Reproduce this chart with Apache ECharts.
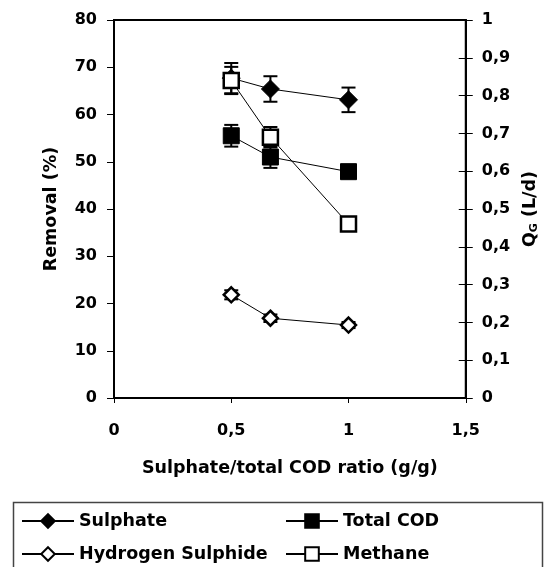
<!DOCTYPE html>
<html>
<head>
<meta charset="utf-8">
<script src="https://cdn.jsdelivr.net/npm/echarts@6/dist/echarts.min.js"></script>
<style>html,body{margin:0;padding:0;background:#fff}#c{width:548px;height:567px}</style>
</head>
<body>
<div id="c"></div>
<script>
// ---- data ----
const ratio = [0.5, 0.667, 1];
const sulphate = [67.7, 65.4, 63.1];
const sulphateErr = [3.2, 2.7, 2.6];
const totalCOD = [55.5, 51.0, 47.9];
const totalCODErr = [2.3, 2.3, 0.8];
const methane = [0.84, 0.69, 0.46];
const methaneErr = [0.036, 0.027, 0];
const h2s = [0.273, 0.211, 0.193];
const h2sErr = [0.012, 0.01, 0.008];
const xTickLabels = ['0', '0,5', '1', '1,5'];
const leftTickLabels = ['0', '10', '20', '30', '40', '50', '60', '70', '80'];
const rightTickLabels = ['0', '0,1', '0,2', '0,3', '0,4', '0,5', '0,6', '0,7', '0,8', '0,9', '1'];

const FONT = '"DejaVu Sans", sans-serif';
const chart = echarts.init(document.getElementById('c'));

function pts(vals) { return ratio.map((x, i) => [x, vals[i]]); }
function errPts(vals, errs) { return ratio.map((x, i) => [x, vals[i], errs[i]]); }

function errSeries(vals, errs, yIdx) {
  return {
    type: 'custom', yAxisIndex: yIdx, z: 1, silent: true,
    data: errPts(vals, errs),
    renderItem: function (params, api) {
      const x = api.value(0), y = api.value(1), e = api.value(2);
      if (!e) return null;
      const top = api.coord([x, y + e]);
      const bot = api.coord([x, y - e]);
      const hw = 7;
      const st = { stroke: '#000', lineWidth: 2 };
      return {
        type: 'group', children: [
          { type: 'line', shape: { x1: top[0], y1: top[1], x2: bot[0], y2: bot[1] }, style: st },
          { type: 'line', shape: { x1: top[0] - hw, y1: top[1], x2: top[0] + hw, y2: top[1] }, style: st },
          { type: 'line', shape: { x1: bot[0] - hw, y1: bot[1], x2: bot[0] + hw, y2: bot[1] }, style: st }
        ]
      };
    }
  };
}

const labelStyle = { color: '#000', fontFamily: FONT, fontWeight: 'bold', fontSize: 16 };
const nameStyle = { color: '#000', fontFamily: FONT, fontWeight: 'bold', fontSize: 17.5 };
const legendText = { color: '#000', fontFamily: FONT, fontWeight: 'bold', fontSize: 17.5 };

chart.setOption({
  animation: false,
  backgroundColor: '#fff',
  grid: { left: 114, right: 75, top: 20, bottom: 169, show: true, borderColor: '#000', borderWidth: 2, backgroundColor: 'transparent' },
  xAxis: {
    type: 'value', min: 0, max: 1.5, interval: 0.5,
    name: 'Sulphate/total COD ratio (g/g)', nameLocation: 'middle', nameGap: 61, nameTextStyle: nameStyle,
    axisLine: { lineStyle: { color: '#000', width: 2 } },
    axisTick: { show: true, length: 5, lineStyle: { color: '#000', width: 1 } },
    axisLabel: Object.assign({ margin: 25, formatter: v => xTickLabels[Math.round(v * 2)] }, labelStyle),
    splitLine: { show: false }
  },
  yAxis: [
    {
      type: 'value', min: 0, max: 80, interval: 10, position: 'left',
      name: 'Removal (%)', nameLocation: 'middle', nameGap: 54, nameTextStyle: nameStyle,
      axisLine: { show: true, lineStyle: { color: '#000', width: 2 } },
      axisTick: { show: true, length: 7, lineStyle: { color: '#000', width: 1 } },
      axisLabel: Object.assign({ margin: 17, formatter: v => leftTickLabels[Math.round(v / 10)] }, labelStyle),
      splitLine: { show: false }
    },
    {
      type: 'value', min: 0, max: 1, interval: 0.1, position: 'right',
      name: '{q|Q}{s|G}{q| (L/d)}', nameLocation: 'middle', nameGap: 52,
      nameTextStyle: Object.assign({}, nameStyle, { rich: { q: { fontFamily: FONT, fontWeight: 'bold', fontSize: 17.5, color: '#000' }, s: { fontFamily: FONT, fontWeight: 'bold', fontSize: 11, color: '#000', verticalAlign: 'bottom', padding: [9, 0, 0, 0] } } }),
      axisLine: { show: true, lineStyle: { color: '#000', width: 2 } },
      axisTick: { show: true, length: 7, lineStyle: { color: '#000', width: 1 } },
      axisLabel: Object.assign({ margin: 16, formatter: v => rightTickLabels[Math.round(v * 10)] }, labelStyle),
      splitLine: { show: false }
    },
    {
      type: 'value', min: 0, max: 1, interval: 0.1, position: 'right',
      axisLine: { show: false },
      axisTick: { show: true, inside: true, length: 7, lineStyle: { color: '#000', width: 1 } },
      axisLabel: { show: false },
      splitLine: { show: false }
    }
  ],
  legend: [
    {
      orient: 'vertical', left: 21, top: 512, height: 120, padding: 0,
      itemWidth: 52, itemHeight: 17, itemGap: 15, itemTextGap: 7,
      data: ['Sulphate', 'Hydrogen Sulphide'],
      textStyle: legendText
    },
    {
      orient: 'vertical', left: 285, top: 512, height: 120, padding: 0,
      itemWidth: 52, itemHeight: 17, itemGap: 15, itemTextGap: 7,
      data: ['Total COD', 'Methane'],
      textStyle: legendText
    }
  ],
  graphic: [
    { type: 'rect', shape: { x: 13.5, y: 502.5, width: 529, height: 80 }, style: { fill: 'none', stroke: '#444', lineWidth: 1.5 }, z: 0 }
  ],
  series: [
    errSeries(sulphate, sulphateErr, 0),
    errSeries(totalCOD, totalCODErr, 0),
    errSeries(methane, methaneErr, 1),
    errSeries(h2s, h2sErr, 1),
    {
      name: 'Sulphate', type: 'line', yAxisIndex: 0, z: 3, data: pts(sulphate),
      symbol: 'diamond', symbolSize: [18, 18],
      lineStyle: { color: '#000', width: 1 },
      itemStyle: { color: '#000', borderColor: '#000', borderWidth: 1 }
    },
    {
      name: 'Total COD', type: 'line', yAxisIndex: 0, z: 3, data: pts(totalCOD),
      symbol: 'rect', symbolSize: [16, 16],
      lineStyle: { color: '#000', width: 1 },
      itemStyle: { color: '#000', borderColor: '#000', borderWidth: 1 }
    },
    {
      name: 'Methane', type: 'line', yAxisIndex: 1, z: 4, data: pts(methane),
      symbol: 'rect', symbolSize: [15, 15],
      lineStyle: { color: '#000', width: 1 },
      itemStyle: { color: '#fff', borderColor: '#000', borderWidth: 2.5 }
    },
    {
      name: 'Hydrogen Sulphide', type: 'line', yAxisIndex: 1, z: 3, data: pts(h2s),
      symbol: 'diamond', symbolSize: [15, 15],
      lineStyle: { color: '#000', width: 1 },
      itemStyle: { color: '#fff', borderColor: '#000', borderWidth: 2.5 }
    }
  ]
});
</script>
</body>
</html>
